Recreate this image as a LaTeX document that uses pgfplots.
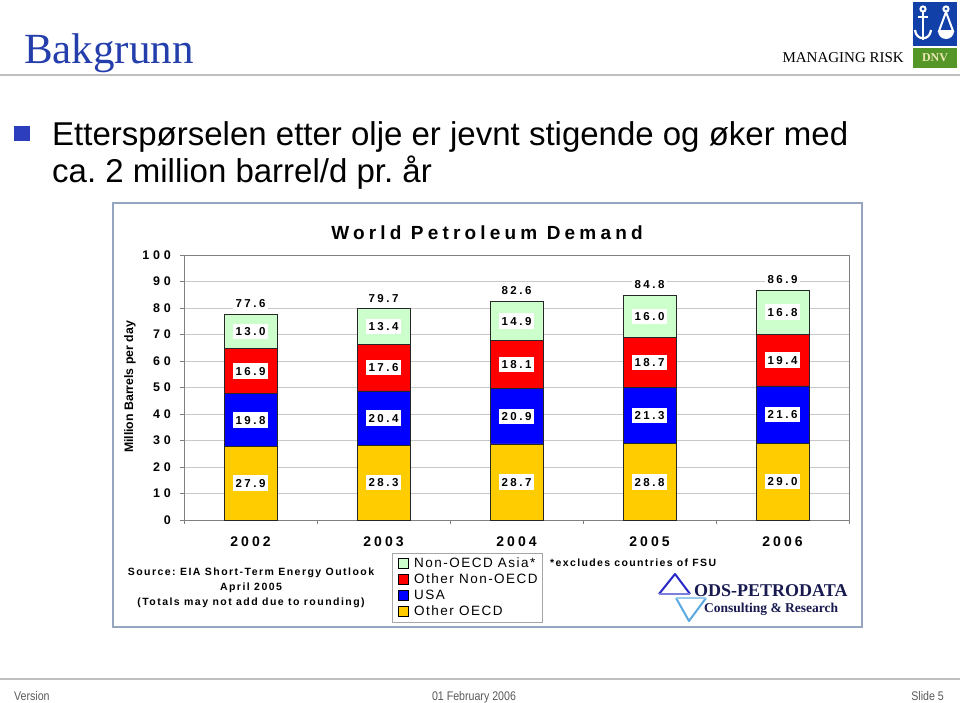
\documentclass[border=0pt]{standalone}
\usepackage{fontspec}
\setmainfont{Liberation Sans}
\newfontfamily\serif{Liberation Serif}
\newfontfamily\chartf{Liberation Sans}
\newfontfamily\narrow{Liberation Sans}[FakeStretch=0.85]
\usepackage{pgfplots}
\pgfplotsset{compat=1.18}
\definecolor{ttl}{RGB}{36,62,172}
\definecolor{bul}{RGB}{44,62,190}
\definecolor{asia}{RGB}{204,255,204}
\definecolor{onon}{RGB}{255,0,0}
\definecolor{usa}{RGB}{0,0,255}
\definecolor{oecd}{RGB}{255,204,0}
\definecolor{frame}{RGB}{150,166,192}
\definecolor{gridgray}{RGB}{200,200,200}
\definecolor{axisgray}{RGB}{128,128,128}
\definecolor{dnvblue}{RGB}{16,64,168}
\definecolor{dnvgreen}{RGB}{84,150,40}
\definecolor{dnvtext}{RGB}{236,230,180}
\definecolor{odsnavy}{RGB}{24,26,80}
\definecolor{odsblue}{RGB}{40,40,200}
\definecolor{odslight}{RGB}{90,170,225}
\definecolor{foot}{RGB}{90,90,90}
\tikzset{
  lbl/.style={fill=white, inner xsep=2.5pt, inner ysep=3.5pt, text height=8.5pt, text depth=0pt,
     font=\chartf\bfseries\fontsize{11.5}{12}\selectfont\addfontfeature{LetterSpace=22}},
  tot/.style={lbl, yshift=11pt},
}
\frenchspacing
\begin{document}
\begin{tikzpicture}
\path[use as bounding box, fill=white] (0,0) rectangle (960pt,-702pt);
% ---------- header ----------
\node[anchor=base west, inner sep=0, text=ttl, font=\serif\fontsize{43}{43}\selectfont] at (24pt,-63pt) {Bakgrunn};
\node[anchor=base east, inner sep=0, font=\serif\fontsize{15}{15}\selectfont] at (904pt,-62pt) {MANAGING RISK};
\fill[dnvblue] (913pt,-2pt) rectangle (957pt,-46pt);
\draw[white, line width=2pt] (923pt,-9pt) circle (2.6pt);
\draw[white, line width=2.4pt] (923pt,-12pt) -- (923pt,-40pt);
\draw[white, line width=2pt] (918pt,-17pt) -- (928pt,-17pt);
\draw[white, line width=2.2pt] (915pt,-30pt) .. controls (916pt,-41pt) and (930pt,-41pt) .. (931pt,-30pt);
\draw[white, line width=2pt] (946pt,-9pt) circle (2.6pt);
\draw[white, line width=2pt] (946pt,-12pt) -- (939pt,-31pt) -- (953pt,-31pt) -- cycle;
\fill[white] (938pt,-31pt) arc (180:360:8pt) -- cycle;
\fill[dnvgreen] (913pt,-48pt) rectangle (957pt,-68pt);
\node[font=\serif\bfseries\fontsize{12}{12}\selectfont, text=dnvtext, inner sep=0] at (935pt,-58pt) {DNV};
\draw[gray!50, line width=1.5pt] (0pt,-75pt) -- (960pt,-75pt);
% ---------- bullet ----------
\fill[bul] (14pt,-126pt) rectangle (30pt,-141pt);
\node[anchor=base west, inner sep=0, font=\fontsize{33}{33}\selectfont] at (52pt,-145pt) {Etterspørselen etter olje er jevnt stigende og øker med};
\node[anchor=base west, inner sep=0, font=\fontsize{33}{33}\selectfont] at (52pt,-182pt) {ca. 2 million barrel/d pr. år};
% ---------- chart frame ----------
\draw[frame, line width=1.2pt] (113pt,-203pt) rectangle (862pt,-627pt);
\node[font=\chartf\bfseries\fontsize{19}{19}\selectfont\addfontfeature{LetterSpace=22}, inner sep=0] at (487pt,-233pt) {World Petroleum Demand};
\node[rotate=90, font=\chartf\bfseries\fontsize{12.3}{12}\selectfont, inner sep=0] at (130pt,-387pt) {Million Barrels per day};
\begin{axis}[
  at={(184pt,-520pt)}, anchor=south west,
  scale only axis, width=665pt, height=265pt,
  xmin=-0.5, xmax=4.5, ymin=0, ymax=100,
  ybar stacked, bar width=53pt,
  axis line style={draw=axisgray, line width=0.8pt},
  /pgf/number format/assume math mode=true,
  xtick={-0.5,0.5,1.5,2.5,3.5,4.5}, xticklabels={,,,,,},
  extra x ticks={0,1,2,3,4},
  extra x tick labels={2002,2003,2004,2005,2006},
  extra x tick style={major tick length=0pt},
  ytick={0,10,...,100},
  tick align=outside, tick pos=left, major tick length=4pt,
  tick style={draw=axisgray, line width=0.8pt},
  ymajorgrids, grid style={draw=gridgray, line width=0.8pt},
  yticklabel style={font=\chartf\bfseries\fontsize{12.5}{12}\selectfont\addfontfeature{LetterSpace=30}, anchor=east, inner sep=0pt, xshift=-9pt},
  xticklabel style={font=\chartf\bfseries\fontsize{14}{14}\selectfont\addfontfeature{LetterSpace=22}, anchor=north, inner sep=0pt, yshift=-17pt},
  legend style={at={(0.3128,-0.1245)}, anchor=north west, draw=gray!70, line width=0.6pt,
     font=\chartf\fontsize{13.5}{14}\selectfont\addfontfeature{LetterSpace=11},
     inner sep=2.5pt, row sep=0pt,
     nodes={inner sep=1.6pt, text height=10.2pt, text depth=2.7pt}},
  legend cell align=left,
  reverse legend,
  legend image code/.code={\path (0pt,-4.5pt) (17pt,5.5pt); \draw[#1, draw=black, line width=0.6pt] (3.5pt,-4.5pt) rectangle (13.5pt,5.5pt);},
]
\addplot[fill=oecd, draw=black!85, line width=0.7pt] coordinates {(0,27.9) (1,28.3) (2,28.7) (3,28.8) (4,29.0)};
\addplot[fill=usa, draw=black!85, line width=0.7pt] coordinates {(0,19.8) (1,20.4) (2,20.9) (3,21.3) (4,21.6)};
\addplot[fill=onon, draw=black!85, line width=0.7pt] coordinates {(0,16.9) (1,17.6) (2,18.1) (3,18.7) (4,19.4)};
\addplot[fill=asia, draw=black!85, line width=0.7pt] coordinates {(0,13.0) (1,13.4) (2,14.9) (3,16.0) (4,16.8)};
\legend{Other OECD, USA, Other Non-OECD, Non-OECD Asia*}
% label anchors (segment centres and bar tops)
\coordinate (a0) at (axis cs:0,13.95);  \coordinate (a1) at (axis cs:1,14.15);
\coordinate (a2) at (axis cs:2,14.35);  \coordinate (a3) at (axis cs:3,14.4);
\coordinate (a4) at (axis cs:4,14.5);
\coordinate (b0) at (axis cs:0,37.8);   \coordinate (b1) at (axis cs:1,38.5);
\coordinate (b2) at (axis cs:2,39.15);  \coordinate (b3) at (axis cs:3,39.45);
\coordinate (b4) at (axis cs:4,39.8);
\coordinate (c0) at (axis cs:0,56.15);  \coordinate (c1) at (axis cs:1,57.5);
\coordinate (c2) at (axis cs:2,58.65);  \coordinate (c3) at (axis cs:3,59.45);
\coordinate (c4) at (axis cs:4,60.3);
\coordinate (d0) at (axis cs:0,71.1);   \coordinate (d1) at (axis cs:1,73.0);
\coordinate (d2) at (axis cs:2,75.15);  \coordinate (d3) at (axis cs:3,76.8);
\coordinate (d4) at (axis cs:4,78.4);
\coordinate (t0) at (axis cs:0,77.6);   \coordinate (t1) at (axis cs:1,79.7);
\coordinate (t2) at (axis cs:2,82.6);   \coordinate (t3) at (axis cs:3,84.8);
\coordinate (t4) at (axis cs:4,86.8);
\end{axis}
% segment labels
\node[lbl] at (a0) {27.9}; \node[lbl] at (a1) {28.3}; \node[lbl] at (a2) {28.7};
\node[lbl] at (a3) {28.8}; \node[lbl] at (a4) {29.0};
\node[lbl] at (b0) {19.8}; \node[lbl] at (b1) {20.4}; \node[lbl] at (b2) {20.9};
\node[lbl] at (b3) {21.3}; \node[lbl] at (b4) {21.6};
\node[lbl] at (c0) {16.9}; \node[lbl] at (c1) {17.6}; \node[lbl] at (c2) {18.1};
\node[lbl] at (c3) {18.7}; \node[lbl] at (c4) {19.4};
\node[lbl] at (d0) {13.0}; \node[lbl] at (d1) {13.4}; \node[lbl] at (d2) {14.9};
\node[lbl] at (d3) {16.0}; \node[lbl] at (d4) {16.8};
\node[tot] at (t0) {77.6}; \node[tot] at (t1) {79.7}; \node[tot] at (t2) {82.6};
\node[tot] at (t3) {84.8}; \node[tot] at (t4) {86.9};
% ---------- notes ----------
\begin{scope}[every node/.style={inner sep=0, anchor=base, font=\chartf\bfseries\fontsize{10.5}{11}\selectfont\addfontfeature{LetterSpace=14}}]
\node at (251pt,-575pt) {Source: EIA Short-Term Energy Outlook};
\node at (251pt,-590pt) {April 2005};
\node at (251pt,-605pt) {(Totals may not add due to rounding)};
\end{scope}
\node[inner sep=0, anchor=base west, font=\chartf\bfseries\fontsize{10.5}{11}\selectfont\addfontfeature{LetterSpace=13}] at (550pt,-566pt) {*excludes countries of FSU};
% ODS-PETRODATA logo
\draw[odsblue, line width=2pt, line join=round] (659pt,-594pt) -- (675pt,-574pt) -- (690pt,-594pt);
\draw[odsblue!60, line width=1.2pt] (659pt,-594pt) -- (690pt,-594pt);
\draw[odslight, line width=2pt, line join=round] (676pt,-598pt) -- (689pt,-621pt) -- (706pt,-598pt);
\draw[odslight!60, line width=1.2pt] (676pt,-598pt) -- (706pt,-598pt);
\node[anchor=base west, inner sep=0, text=odsnavy, font=\serif\bfseries\fontsize{18}{19}\selectfont] at (694pt,-596pt) {ODS-PETRODATA};
\node[anchor=base west, inner sep=0, text=odsnavy, font=\serif\bfseries\fontsize{13.5}{14}\selectfont] at (704pt,-612pt) {Consulting \& Research};
% ---------- footer ----------
\draw[gray!50, line width=1.2pt] (0pt,-679pt) -- (960pt,-679pt);
\node[anchor=base west, inner sep=0, text=foot, font=\narrow\fontsize{12.5}{13}\selectfont] at (14pt,-700pt) {Version};
\node[anchor=base, inner sep=0, text=foot, font=\narrow\fontsize{12.5}{13}\selectfont] at (474pt,-700pt) {01 February 2006};
\node[anchor=base east, inner sep=0, text=foot, font=\narrow\fontsize{12.5}{13}\selectfont] at (944pt,-700pt) {Slide 5};
\end{tikzpicture}
\end{document}
